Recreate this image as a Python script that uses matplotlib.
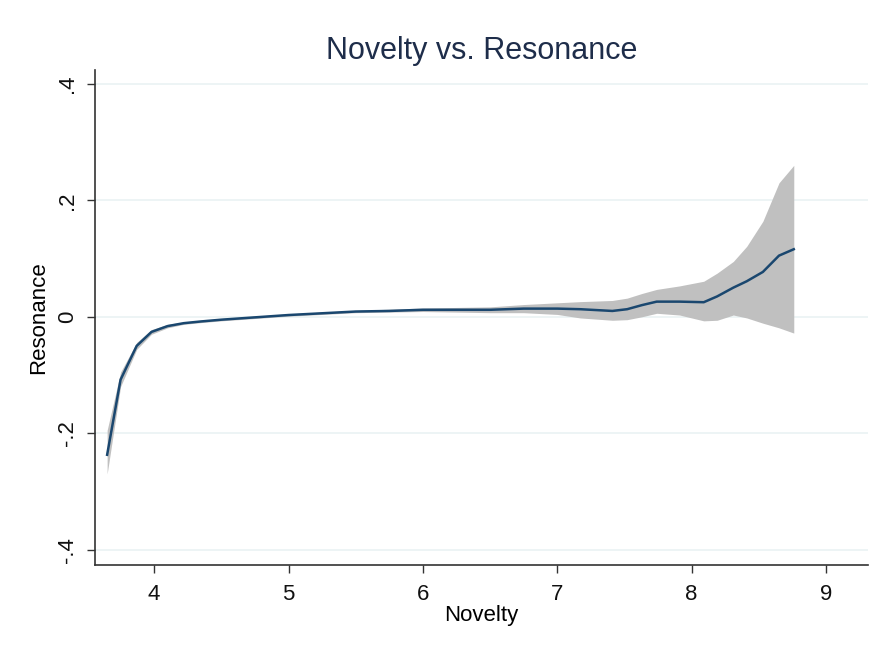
import matplotlib
matplotlib.use("Agg")
import matplotlib.pyplot as plt

plt.rcParams['font.family'] = ['Liberation Sans', 'DejaVu Sans']

novelty = [3.65, 3.75, 3.87, 3.98, 4.1, 4.22, 4.35, 4.5, 4.75, 5.0, 5.25, 5.5, 5.75, 6.0,
           6.25, 6.5, 6.75, 7.0, 7.17, 7.41, 7.52, 7.63, 7.74, 7.91, 8.09, 8.19, 8.31,
           8.41, 8.53, 8.65, 8.76]
resonance = [-0.237, -0.108, -0.05, -0.026, -0.016, -0.011, -0.008, -0.005, -0.001, 0.003,
             0.006, 0.009, 0.010, 0.012, 0.012, 0.012, 0.014, 0.014, 0.013, 0.010, 0.013,
             0.020, 0.026, 0.026, 0.025, 0.035, 0.050, 0.061, 0.077, 0.105, 0.116]
ci_upper = [-0.195, -0.095, -0.044, -0.022, -0.013, -0.009, -0.006, -0.003, 0.001, 0.005,
            0.008, 0.011, 0.013, 0.015, 0.016, 0.017, 0.021, 0.024, 0.026, 0.028, 0.032,
            0.040, 0.047, 0.053, 0.061, 0.075, 0.095, 0.121, 0.164, 0.23, 0.26]
ci_lower = [-0.27, -0.12, -0.056, -0.030, -0.019, -0.013, -0.010, -0.007, -0.003, 0.001,
            0.004, 0.007, 0.008, 0.009, 0.008, 0.007, 0.007, 0.004, -0.002, -0.006, -0.005,
            0.0, 0.006, 0.003, -0.007, -0.006, 0.003, -0.002, -0.011, -0.019, -0.028]

x_ticks = [4, 5, 6, 7, 8, 9]
y_ticks = [-0.4, -0.2, 0, 0.2, 0.4]
y_labels = ['-.4', '-.2', '0', '.2', '.4']

fig = plt.figure(figsize=(8.8, 6.47), dpi=100)
ax = fig.add_axes([0.108, 0.127, 0.878, 0.765])

ax.fill_between(novelty, ci_lower, ci_upper, color='#c0c0c0', linewidth=0, zorder=2)
ax.plot(novelty, resonance, color='#1a476f', linewidth=1.8, zorder=3)

for yv in y_ticks:
    ax.axhline(yv, color='#eaf2f3', linewidth=1.2, zorder=1)

ax.set_xlim(3.56, 9.31)
ax.set_ylim(-0.426, 0.424)
ax.set_xticks(x_ticks)
ax.set_xticklabels([str(v) for v in x_ticks])
ax.set_yticks(y_ticks)
ax.set_yticklabels(y_labels, rotation=90, va='center')

for side in ['top', 'right']:
    ax.spines[side].set_visible(False)
for side in ['left', 'bottom']:
    ax.spines[side].set_color('#333333')
    ax.spines[side].set_linewidth(1.2)

ax.tick_params(axis='both', labelsize=16, length=6, width=1, color='#333333', colors='#111111')
ax.tick_params(axis='x', pad=8)
ax.tick_params(axis='y', pad=6)

ax.set_xlabel('Novelty', fontsize=16, labelpad=0)
ax.set_ylabel('Resonance', fontsize=16, labelpad=6)
ax.set_title('Novelty vs. Resonance', fontsize=22, color='#1e2d4a', pad=8)

fig.savefig('out.png', dpi=100, facecolor='white')
